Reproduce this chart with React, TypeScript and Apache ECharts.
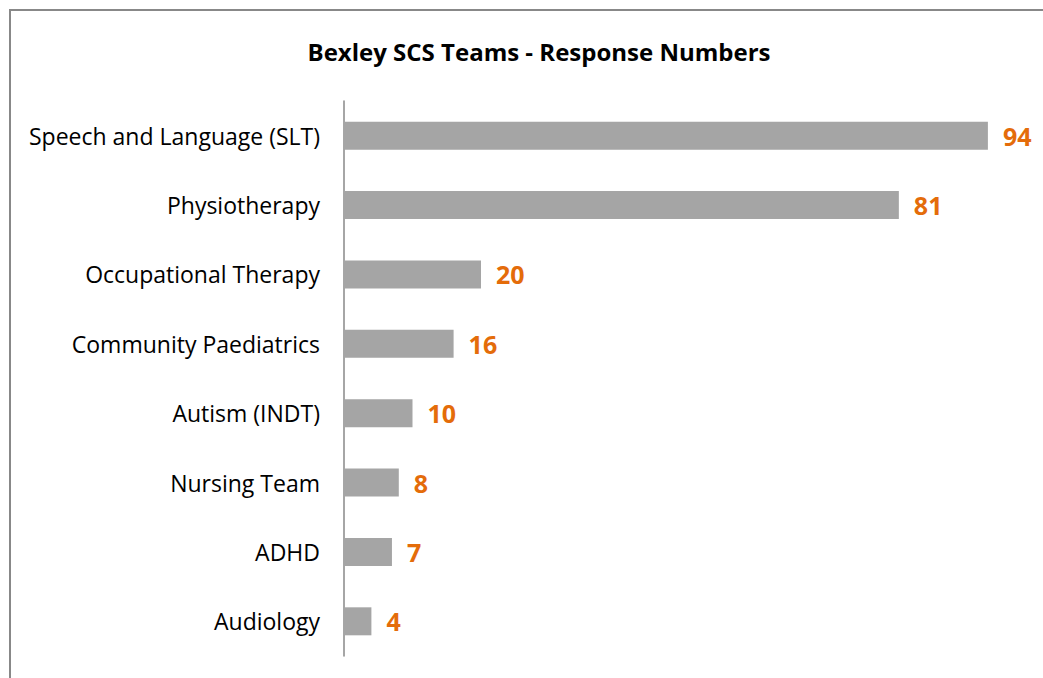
import React, { useEffect, useRef } from "react";
import * as echarts from "echarts";

const categories = [
  "Speech and Language (SLT)",
  "Physiotherapy",
  "Occupational Therapy",
  "Community Paediatrics",
  "Autism (INDT)",
  "Nursing Team",
  "ADHD",
  "Audiology",
];
const responses = [94, 81, 20, 16, 10, 8, 7, 4];
const titleText = "Bexley SCS Teams - Response Numbers";

const FONT = "'Open Sans', 'Noto Sans', sans-serif";

export default function App() {
  const ref = useRef<HTMLDivElement>(null);
  useEffect(() => {
    if (!ref.current) return;
    const chart = echarts.init(ref.current, undefined, { renderer: "svg" });
    chart.setOption({
      animation: false,
      backgroundColor: "#ffffff",
      title: {
        text: titleText,
        left: 534,
        top: 34,
        textAlign: "center",
        textStyle: { fontFamily: FONT, fontSize: 24, fontWeight: "bold", color: "#000" },
      },
      graphic: [
        {
          type: "rect",
          shape: { x: 10, y: 10, width: 1100, height: 700 },
          style: { fill: "none", stroke: "#888888", lineWidth: 2 },
          silent: true,
        },
      ],
      grid: { left: 344, right: 14, top: 101, bottom: 22, containLabel: false },
      xAxis: {
        type: "value",
        min: 0,
        max: 100,
        show: false,
      },
      yAxis: {
        type: "category",
        data: categories,
        inverse: true,
        axisLine: { show: true, lineStyle: { color: "#888888", width: 1.5 } },
        axisTick: { show: false },
        axisLabel: { fontFamily: FONT, fontSize: 23, color: "#000", margin: 24 },
      },
      series: [
        {
          type: "bar",
          data: responses,
          barWidth: 28,
          itemStyle: { color: "#A5A5A5" },
          label: {
            show: true,
            position: "right",
            distance: 15,
            fontFamily: FONT,
            fontSize: 25,
            fontWeight: "bold",
            color: "#E46C0A",
          },
        },
      ],
    });
    return () => chart.dispose();
  }, []);
  return (
    <div
      ref={ref}
      style={{ position: "absolute", left: 0, top: 0, width: 1043, height: 678 }}
    />
  );
}
